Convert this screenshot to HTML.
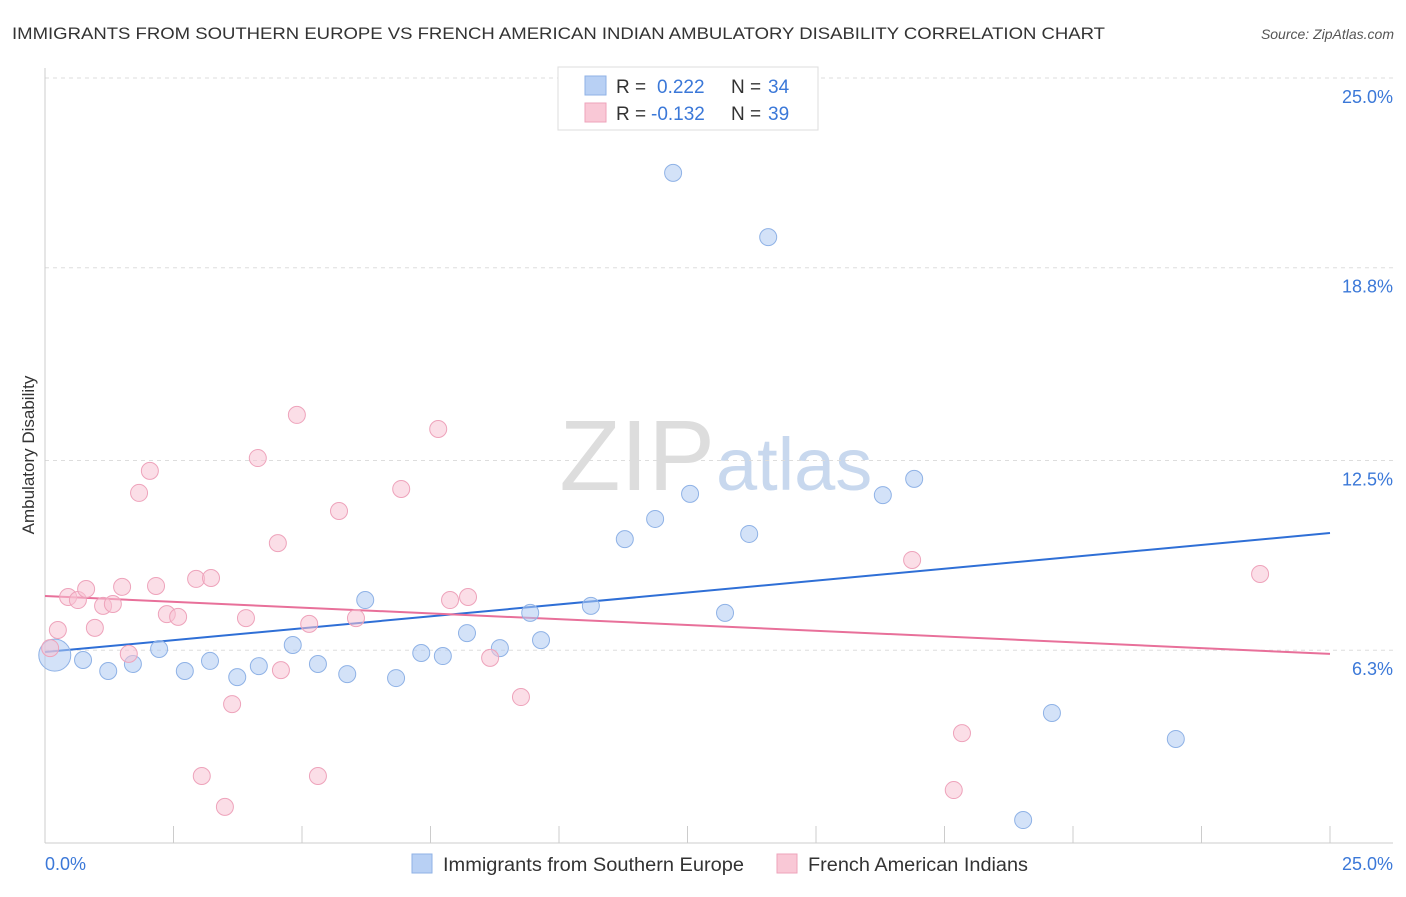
<!DOCTYPE html>
<html><head><meta charset="utf-8"><style>
body{margin:0;background:#fff;font-family:"Liberation Sans",sans-serif;}
svg text{font-family:"Liberation Sans",sans-serif;}
</style></head><body>
<svg id="chart" width="1406" height="892" xmlns="http://www.w3.org/2000/svg">
<text x="12" y="39" font-size="17" fill="#333" textLength="1093" lengthAdjust="spacingAndGlyphs">IMMIGRANTS FROM SOUTHERN EUROPE VS FRENCH AMERICAN INDIAN AMBULATORY DISABILITY CORRELATION CHART</text>
<text x="1394" y="39" font-size="14" fill="#555" font-style="italic" text-anchor="end">Source: ZipAtlas.com</text>
<text x="715" y="490" font-size="100" fill="#ddd" text-anchor="end" font-family="Liberation Serif">ZIP</text>
<text x="716" y="490" font-size="74" fill="#c8d8ee">atlas</text>
<text transform="translate(34,455) rotate(-90)" font-size="17" fill="#333" text-anchor="middle">Ambulatory Disability</text>
<g id="grid"></g><g id="axes"></g><g id="lines"></g><g id="pts"></g>
<g>
<rect x="558" y="67" width="260" height="63" fill="#fff" stroke="#ddd"/>
<rect x="585" y="76" width="21" height="19" fill="#b8d0f4" stroke="#8fb2e6"/>
<rect x="585" y="103" width="21" height="19" fill="#f9c8d6" stroke="#eea3bb"/>
<text x="616" y="93" font-size="19" fill="#333">R = </text><text x="657" y="93" font-size="19" fill="#3b78d8">0.222</text>
<text x="731" y="93" font-size="19" fill="#333">N = </text><text x="768" y="93" font-size="19" fill="#3b78d8">34</text>
<text x="616" y="120" font-size="19" fill="#333">R = </text><text x="651" y="120" font-size="19" fill="#3b78d8">-0.132</text>
<text x="731" y="120" font-size="19" fill="#333">N = </text><text x="768" y="120" font-size="19" fill="#3b78d8">39</text>
</g>
<g>
<rect x="412" y="854" width="20" height="19" fill="#b8d0f4" stroke="#8fb2e6"/>
<text x="443" y="871" font-size="19" fill="#333" textLength="301" lengthAdjust="spacingAndGlyphs">Immigrants from Southern Europe</text>
<rect x="777" y="854" width="20" height="19" fill="#f9c8d6" stroke="#eea3bb"/>
<text x="808" y="871" font-size="19" fill="#333" textLength="220" lengthAdjust="spacingAndGlyphs">French American Indians</text>
</g>
</svg>
<script>
const blueX=[0.19,0.74,1.23,1.71,2.22,2.72,3.21,3.74,4.16,4.82,5.31,5.88,6.23,6.83,7.32,7.74,8.21,8.85,9.44,9.65,10.62,11.28,11.87,12.22,12.55,13.23,13.70,14.07,16.30,16.91,19.59,22.00,19.03];
const blueY=[6.14,5.98,5.62,5.85,6.34,5.62,5.95,5.42,5.78,6.47,5.85,5.52,7.94,5.39,6.21,6.11,6.86,6.37,7.52,6.63,7.75,9.93,10.59,21.90,11.41,7.52,10.10,19.80,11.37,11.90,4.25,3.40,0.75];
const pinkX=[0.10,0.25,0.45,0.64,0.80,0.97,1.13,1.32,1.50,1.63,1.83,2.04,2.16,2.37,2.59,2.94,3.05,3.23,3.50,3.64,3.91,4.14,4.53,4.59,4.90,5.14,5.31,5.72,6.05,6.93,7.65,7.88,8.23,8.66,9.26,16.87,17.68,17.84,23.64];
const pinkY=[6.37,6.96,8.04,7.94,8.30,7.03,7.75,7.81,8.37,6.18,11.44,12.16,8.40,7.48,7.39,8.63,2.19,8.66,1.18,4.54,7.35,12.58,9.80,5.65,13.99,7.16,2.19,10.85,7.35,11.57,13.53,7.94,8.04,6.05,4.77,9.25,1.73,3.59,8.79];
const blueTrend=[6.24,10.13];
const pinkTrend=[8.07,6.18];
const yTicks=[6.3,12.5,18.8,25.0];
const yTickLabels=["6.3%","12.5%","18.8%","25.0%"];
const xTicks=[0,2.5,5,7.5,10,12.5,15,17.5,20,22.5,25];
const NS='http://www.w3.org/2000/svg';
const sx=v=>45+v*(1330-45)/25;
const sy=v=>843-v*(843-78)/25;
function mk(tag,attrs,parent){const e=document.createElementNS(NS,tag);for(const k in attrs)e.setAttribute(k,attrs[k]);document.getElementById(parent).appendChild(e);return e;}
yTicks.forEach((t,i)=>{
 const l=mk('line',{x1:45,x2:1393,y1:sy(t),y2:sy(t),stroke:'#ddd','stroke-dasharray':'4,4'},'grid');
 
 
 const tx=mk('text',{x:1393,y:sy(t)+25,'font-size':18,fill:'#3b78d8','text-anchor':'end'},'grid');
 tx.textContent=yTickLabels[i];
 
 
});
const ax=mk('line',{x1:45,x2:45,y1:68,y2:843,stroke:'#ccc'},'axes');


const bx=mk('line',{x1:45,x2:1393,y1:843,y2:843,stroke:'#ccc'},'axes');


xTicks.forEach(t=>{
 const l=mk('line',{x1:sx(t),x2:sx(t),y1:826,y2:843,stroke:'#ccc'},'axes');
 
 
});
const x0=mk('text',{x:45,y:870,'font-size':18,fill:'#3b78d8'},'axes');x0.textContent='0.0%';


const x1=mk('text',{x:1393,y:870,'font-size':18,fill:'#3b78d8','text-anchor':'end'},'axes');x1.textContent='25.0%';


blueX.forEach((x,i)=>{
 const c=mk('circle',{cx:sx(x),cy:sy(blueY[i]),r:i===0?16:8.5,fill:'rgba(175,202,242,0.55)',stroke:'#8fb2e6','stroke-width':1},'pts');
 
 
});
pinkX.forEach((x,i)=>{
 const c=mk('circle',{cx:sx(x),cy:sy(pinkY[i]),r:8.5,fill:'rgba(248,195,212,0.55)',stroke:'#eea3bb','stroke-width':1},'pts');
 
 
});
const bl=mk('line',{x1:sx(0),y1:sy(blueTrend[0]),x2:sx(25),y2:sy(blueTrend[1]),stroke:'#2f6fd6','stroke-width':2},'lines');


const pl=mk('line',{x1:sx(0),y1:sy(pinkTrend[0]),x2:sx(25),y2:sy(pinkTrend[1]),stroke:'#e8709a','stroke-width':2},'lines');


</script>
</body></html>
